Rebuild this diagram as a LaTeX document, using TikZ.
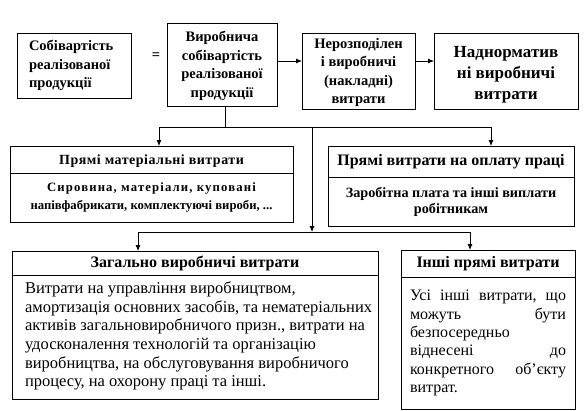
\documentclass[tikz,border=0pt]{standalone}
\usepackage{fontspec}
\setmainfont{Liberation Serif}
\usetikzlibrary{arrows.meta}
\begin{document}
\begin{tikzpicture}[x=1pt,y=-1pt,
  every node/.style={inner sep=0pt,outer sep=0pt},
  box/.style={draw,line width=0.8pt,align=center,font=\bfseries\fontsize{14.5}{18.4}\selectfont},
  hdr/.style={draw,line width=0.8pt,align=center,anchor=north west},
  bdy/.style={draw,line width=0.8pt,anchor=north},
  ln/.style={line width=0.8pt},
  arr/.style={line width=0.8pt,-{Latex[length=6pt,width=5pt]}}]
\useasboundingbox (0,0) rectangle (585,410);
% top row
\node[box,minimum width=114pt,minimum height=65pt] (B1) at (74,65.5) {};
\node[align=left,font=\bfseries\fontsize{14.5}{18.4}\selectfont,anchor=west] (B1t) at ([xshift=12pt]B1.west)
  {Собівартість\\реалізованої\\продукції};
\node[font=\bfseries\fontsize{14.5}{16}\selectfont] (eq) at (156,56) {=};
\node[box,minimum width=110pt,minimum height=83pt] (B2) at (222,64.5)
  {\rule{0pt}{13pt}Виробнича\\собівартість\\реалізованої\\продукції};
\node[box,minimum width=113pt,minimum height=76pt] (B3) at (358.5,71)
  {\rule{0pt}{13pt}Нерозподілен\\і виробничі\\(накладні)\\витрати};
\node[box,minimum width=144pt,minimum height=76pt] (B4) at (506,71) {};
\node[align=center,font=\bfseries\fontsize{17}{21}\selectfont] (B4t) at ([yshift=-4pt]B4.center)
  {Наднорматив\\ні виробничі\\витрати};
\coordinate (row) at (0,61);
\draw[arr] (B2.east |- row) -- (B3.west |- row);
\draw[arr] (B3.east |- row) -- (B4.west |- row);
% middle row
\node[hdr,minimum width=283pt,minimum height=27pt,font=\bfseries\fontsize{14}{14}\selectfont\addfontfeature{LetterSpace=3.5}] (M1h) at (10,146)
  {\rule{0pt}{13pt}Прямі матеріальні витрати};
\node[bdy,minimum width=283pt,minimum height=49pt,align=center,font=\bfseries\fontsize{12.7}{17.5}\selectfont] (M1b) at (M1h.south)
  {{\addfontfeature{LetterSpace=9}Сировина, матеріали, куповані}\\напівфабрикати, комплектуючі вироби, ...};
\node[hdr,minimum width=246pt,minimum height=31pt,font=\bfseries\fontsize{16}{17}\selectfont] (M2h) at (328,146)
  {Прямі витрати на оплату праці};
\node[bdy,minimum width=246pt,minimum height=49pt,align=center,font=\bfseries\fontsize{14.2}{16}\selectfont] (M2b) at (M2h.south)
  {Заробітна плата та інші виплати\\робітникам};
% bottom row
\node[hdr,minimum width=366pt,minimum height=24pt,font=\bfseries\fontsize{16}{17}\selectfont] (Zh) at (12,251)
  {Загально виробничі витрати};
\node[bdy,minimum width=366pt,minimum height=124pt] (Zb) at (Zh.south) {};
\node[anchor=west,align=left,font=\fontsize{16.5}{18.6}\selectfont] (Zt) at ([xshift=13pt,yshift=1pt]Zb.west)
  {Витрати на управління виробництвом,\\
   амортизація основних засобів, та нематеріальних\\
   активів загальновиробничого призн., витрати на\\
   удосконалення технологій та організацію\\
   виробництва, на обслуговування виробничого\\
   процесу, на охорону праці та інші.};
\node[hdr,minimum width=174pt,minimum height=27pt,font=\bfseries\fontsize{16}{17}\selectfont] (Ih) at (401,250)
  {Інші прямі витрати};
\node[bdy,minimum width=174pt,minimum height=132pt,font=\fontsize{16}{18.3}\selectfont] (Ib) at (Ih.south)
  {\parbox{156pt}{\baselineskip=18.3pt
   Усі\hfill інші\hfill витрати,\hfill що\\
   можуть\hfill бути\\
   безпосередньо\\
   віднесені\hfill до\\
   конкретного\hfill об’єкту\\
   витрат.}};
% connectors
\coordinate (j1) at (225,127);
\coordinate (jl) at (159,127);
\coordinate (jr) at (491,127);
\coordinate (jm) at (312,127);
\coordinate (jm2) at (312,232);
\coordinate (kl) at (138,232);
\coordinate (kr) at (470,232);
\draw[ln] (B2.south -| j1) -- (j1);
\draw[ln] (jl) -- (jr);
\draw[arr] (jl) -- (M1h.north -| jl);
\draw[arr] (jr) -- (M2h.north -| jr);
\draw[arr] (jm) -- (jm2);
\draw[ln] (kl) -- (kr);
\draw[arr] (kl) -- (Zh.north -| kl);
\draw[arr] (kr) -- (Ih.north -| kr);
\end{tikzpicture}
\end{document}
